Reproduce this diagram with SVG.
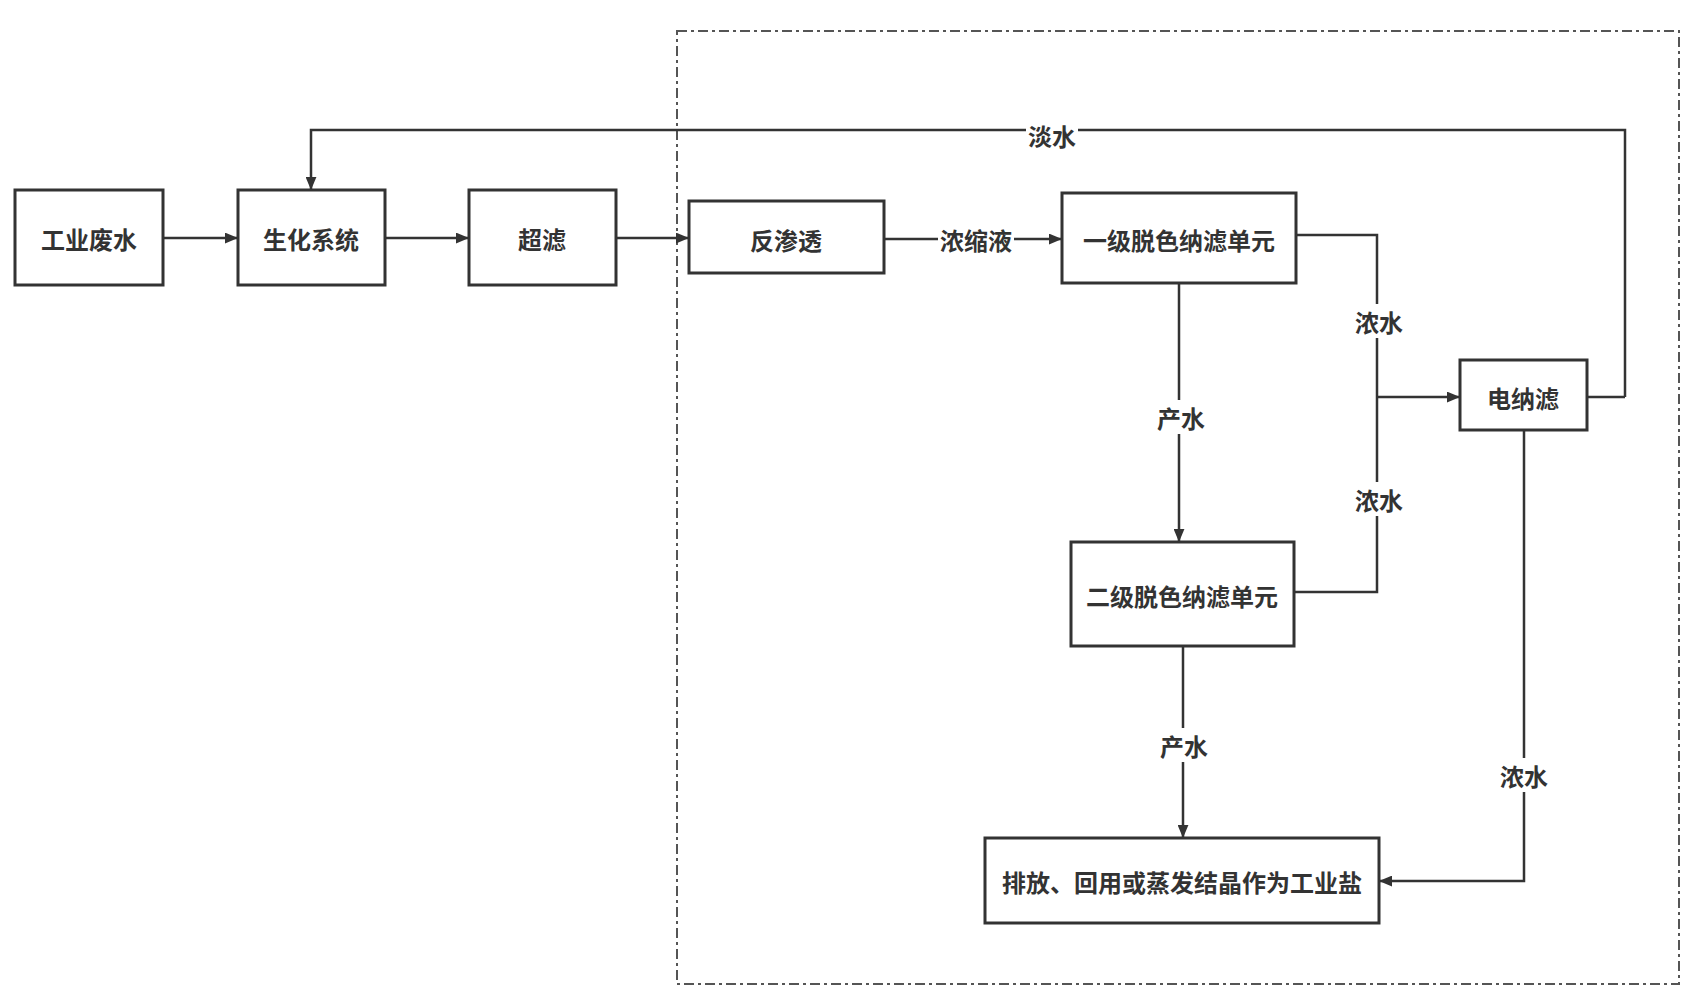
<svg xmlns="http://www.w3.org/2000/svg" width="1694" height="1004" viewBox="0 0 1694 1004">
<defs>
<marker id="ah" viewBox="0 0 12 10" refX="12" refY="5" markerWidth="13" markerHeight="11" markerUnits="userSpaceOnUse" orient="auto"><path d="M0,0 L12,5 L0,10 z" fill="#333"/></marker>
<style>
.box{fill:#fff;stroke:#333;stroke-width:3}
.t{font-family:"Noto Sans CJK SC",sans-serif;font-size:24px;font-weight:bold;fill:#333;text-anchor:middle;dominant-baseline:central}
.lbl{font-family:"Noto Sans CJK SC",sans-serif;font-size:24px;font-weight:bold;fill:#333;text-anchor:middle;dominant-baseline:central}
.c{fill:none;stroke:#333;stroke-width:2.5}
.ca{fill:none;stroke:#333;stroke-width:2.5;marker-end:url(#ah)}
.bg{fill:#fff}
</style>
</defs>
<rect width="1694" height="1004" fill="#fff"/>
<rect x="677" y="31" width="1002" height="953" fill="none" stroke="#555" stroke-width="2" stroke-dasharray="10,4,3,4"/>
<g id="connectors">
<path class="ca" d="M163,238 H238"/>
<path class="ca" d="M385,238 H469"/>
<path class="ca" d="M616,238 H689"/>
<path class="ca" d="M884,239 H1062"/>
<path class="ca" d="M1625,397 V130 H311 V190"/>
<path class="c" d="M1587,397 H1625"/>
<path class="c" d="M1296,235 H1377 V592 H1294"/>
<path class="ca" d="M1377,397 H1460"/>
<path class="ca" d="M1179,283 V542"/>
<path class="ca" d="M1183,646 V838"/>
<path class="ca" d="M1524,430 V881 H1379"/>
<rect class="bg" x="1026" y="118" width="52" height="34"/>
<text class="lbl" x="1052" y="135">淡水</text>
<rect class="bg" x="938" y="222" width="76" height="34"/>
<text class="lbl" x="976" y="239">浓缩液</text>
<rect class="bg" x="1354" y="304" width="50" height="34"/>
<text class="lbl" x="1379" y="321">浓水</text>
<rect class="bg" x="1354" y="482" width="50" height="34"/>
<text class="lbl" x="1379" y="499">浓水</text>
<rect class="bg" x="1155" y="400" width="50" height="34"/>
<text class="lbl" x="1181" y="417">产水</text>
<rect class="bg" x="1159" y="728" width="50" height="34"/>
<text class="lbl" x="1184" y="745">产水</text>
<rect class="bg" x="1499" y="758" width="50" height="34"/>
<text class="lbl" x="1524" y="775">浓水</text>
</g>
<g id="n1"><rect class="box" x="15" y="190" width="148" height="95"/><text class="t" x="89" y="238">工业废水</text></g>
<g id="n2"><rect class="box" x="238" y="190" width="147" height="95"/><text class="t" x="311" y="238">生化系统</text></g>
<g id="n3"><rect class="box" x="469" y="190" width="147" height="95"/><text class="t" x="542" y="238">超滤</text></g>
<g id="n4"><rect class="box" x="689" y="201" width="195" height="72"/><text class="t" x="786" y="239">反渗透</text></g>
<g id="n5"><rect class="box" x="1062" y="193" width="234" height="90"/><text class="t" x="1179" y="239">一级脱色纳滤单元</text></g>
<g id="n6"><rect class="box" x="1460" y="360" width="127" height="70"/><text class="t" x="1523" y="397">电纳滤</text></g>
<g id="n7"><rect class="box" x="1071" y="542" width="223" height="104"/><text class="t" x="1182" y="595">二级脱色纳滤单元</text></g>
<g id="n8"><rect class="box" x="985" y="838" width="394" height="85"/><text class="t" x="1182" y="881">排放、回用或蒸发结晶作为工业盐</text></g>
</svg>
